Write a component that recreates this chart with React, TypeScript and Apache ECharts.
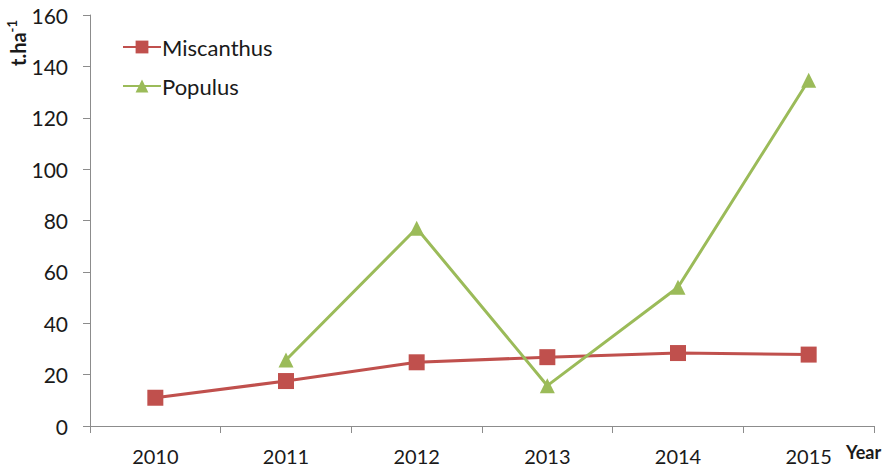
import React, { useEffect, useRef } from "react";
import * as echarts from "echarts";

const years = ["2010", "2011", "2012", "2013", "2014", "2015"];
const miscanthus = [11, 17.5, 24.8, 26.8, 28.4, 27.8];
const populus = [null, 25.7, 77, 15.7, 54, 134.6];

const FONT = "Lato, 'Open Sans', sans-serif";

export default function App() {
  const ref = useRef<HTMLDivElement>(null);

  useEffect(() => {
    if (!ref.current) return;
    const chart = echarts.init(ref.current, undefined, { renderer: "svg" });
    chart.setOption({
      animation: false,
      backgroundColor: "#fff",
      grid: { left: 90, right: 11, top: 15, bottom: 43, containLabel: false },
      legend: {
        orient: "vertical",
        left: 117,
        top: 31,
        itemWidth: 38,
        itemHeight: 16,
        itemGap: 17,
        textStyle: { fontFamily: FONT, fontSize: 22, color: "#1a1a1a", padding: [0, 0, 0, -4] },
        data: ["Miscanthus", "Populus"],
      },
      xAxis: {
        type: "category",
        data: years,
        boundaryGap: true,
        axisLine: { lineStyle: { color: "#8c8c8c", width: 1 } },
        axisTick: { show: true, alignWithLabel: false, length: 7, lineStyle: { color: "#8c8c8c" } },
        axisLabel: { fontFamily: FONT, fontSize: 20, color: "#1a1a1a", margin: 20 },
        splitLine: { show: false },
      },
      yAxis: {
        type: "value",
        min: 0,
        max: 160,
        interval: 20,
        axisLine: { show: true, lineStyle: { color: "#8c8c8c", width: 1 } },
        axisTick: { show: true, length: 7, lineStyle: { color: "#8c8c8c" } },
        axisLabel: { fontFamily: FONT, fontSize: 21, color: "#1a1a1a", margin: 22 },
        splitLine: { show: false },
      },
      graphic: [
        {
          type: "text",
          left: 846,
          top: 443,
          style: { text: "Year", font: `bold 18px ${FONT}`, fill: "#1a1a1a" },
        },
        {
          type: "text",
          x: 5,
          y: 66,
          rotation: Math.PI / 2,
          style: {
            text: "{b|t.ha}{s|-1}",
            rich: {
              b: { font: `bold 20px ${FONT}`, fill: "#1a1a1a", verticalAlign: "bottom" },
              s: { font: `bold 13px ${FONT}`, fill: "#1a1a1a", verticalAlign: "top", padding: [0, 0, 10, 0] },
            },
          },
        },
      ],
      series: [
        {
          name: "Miscanthus",
          type: "line",
          data: miscanthus,
          symbol: "rect",
          symbolSize: 16,
          itemStyle: { color: "#C0504D" },
          lineStyle: { color: "#C0504D", width: 3 },
        },
        {
          name: "Populus",
          type: "line",
          data: populus,
          symbol: "triangle",
          symbolSize: 15,
          itemStyle: { color: "#9BBB59" },
          lineStyle: { color: "#9BBB59", width: 3 },
        },
      ],
    });
    return () => chart.dispose();
  }, []);

  return <div ref={ref} style={{ width: 885, height: 469, position: "absolute", left: 0, top: 0 }} />;
}
